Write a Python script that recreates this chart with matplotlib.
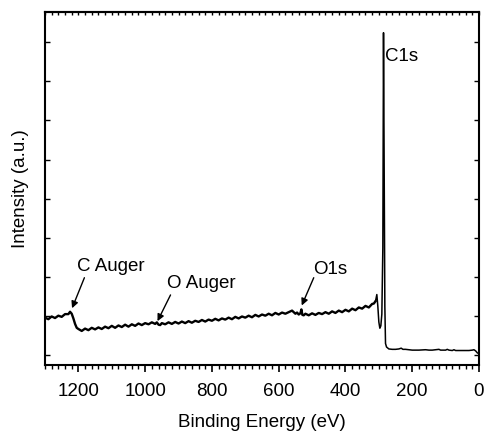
import matplotlib
matplotlib.use("Agg")
import matplotlib.pyplot as plt
from matplotlib.ticker import MultipleLocator, NullFormatter

plt.rcParams['font.family'] = ['Liberation Sans', 'DejaVu Sans']

# XPS survey spectrum (binding energy in eV, intensity in arbitrary units)
energy = [1300, 1290, 1280, 1270, 1260, 1250, 1240, 1230, 1225, 1220,
          1215, 1210, 1205, 1200, 1190, 1180, 1170, 1160, 1150, 1140,
          1130, 1120, 1110, 1100, 1090, 1080, 1070, 1060, 1050, 1040,
          1030, 1020, 1010, 1000, 990, 980, 970, 965, 960, 955,
          950, 940, 930, 920, 910, 900, 890, 880, 870, 860,
          850, 840, 830, 820, 810, 800, 790, 780, 770, 760,
          750, 740, 730, 720, 710, 700, 690, 680, 670, 660,
          650, 640, 630, 620, 610, 600, 590, 580, 570, 560,
          555, 550, 545, 540, 535, 532, 529, 525, 520, 510,
          500, 490, 480, 470, 460, 450, 440, 430, 420, 410,
          400, 390, 380, 370, 360, 350, 340, 330, 320, 315,
          310, 306, 303, 300, 297, 294, 291, 288, 286, 284,
          282, 280, 277, 270, 260, 250, 240, 233, 228, 220,
          200, 180, 160, 150, 140, 130, 120, 115, 100, 95,
          90, 80, 75, 70, 60, 50, 40, 30, 20, 15,
          10, 5, 0]
intensity = [1.21, 1.17, 1.24, 1.20, 1.26, 1.23, 1.30, 1.30, 1.36, 1.31,
             1.19, 1.05, 0.95, 0.92, 0.87, 0.93, 0.89, 0.95, 0.91, 0.96,
             0.92, 0.98, 0.94, 1.00, 0.95, 1.01, 0.97, 1.03, 0.98, 1.04,
             1.00, 1.06, 1.02, 1.07, 1.04, 1.09, 1.05, 1.09, 1.03, 1.02,
             1.07, 1.04, 1.09, 1.05, 1.10, 1.06, 1.11, 1.07, 1.12, 1.08,
             1.13, 1.10, 1.15, 1.11, 1.16, 1.13, 1.18, 1.14, 1.19, 1.16,
             1.21, 1.17, 1.23, 1.19, 1.24, 1.21, 1.26, 1.22, 1.28, 1.24,
             1.29, 1.26, 1.31, 1.27, 1.33, 1.29, 1.34, 1.31, 1.35, 1.39,
             1.35, 1.31, 1.34, 1.29, 1.32, 1.42, 1.28, 1.27, 1.31, 1.27,
             1.32, 1.28, 1.33, 1.30, 1.35, 1.31, 1.37, 1.33, 1.39, 1.35,
             1.41, 1.37, 1.44, 1.40, 1.47, 1.44, 1.51, 1.47, 1.56, 1.57,
             1.63, 1.80, 1.50, 1.10, 0.94, 1.00, 1.30, 3.00, 8.49, 5.00,
             1.50, 0.55, 0.46, 0.41, 0.40, 0.40, 0.41, 0.43, 0.40, 0.40,
             0.38, 0.38, 0.39, 0.38, 0.38, 0.39, 0.40, 0.38, 0.38, 0.40,
             0.38, 0.37, 0.39, 0.37, 0.37, 0.37, 0.37, 0.37, 0.38, 0.39,
             0.36, 0.31, 0.29]

# peak labels: text, text position, arrow (start, tip)
labels = ["C1s", "C Auger", "O Auger", "O1s"]
label_pos = [(282, 7.88), (1203, 2.51), (936, 2.07), (498, 2.43)]
arrows = [None, ((1182, 2.23), (1219, 1.45)),
          ((924, 1.79), (963, 1.12)),
          ((495, 2.23), (531, 1.52))]

fig = plt.figure(figsize=(4.85, 4.34), dpi=100)
ax = fig.add_axes([0.0928, 0.159, 0.8948, 0.8134])

# noisy high-energy part drawn a bit heavier, like the original scan
split = energy.index(310)
ax.plot(energy[:split + 1], intensity[:split + 1], color='black', lw=1.7)
ax.plot(energy[split:], intensity[split:], color='black', lw=1.1)

for txt, pos, arr in zip(labels, label_pos, arrows):
    ax.text(pos[0], pos[1], txt, fontsize=13.5, ha='left', va='center')
    if arr is not None:
        ax.annotate('', xy=arr[1], xytext=arr[0],
                    arrowprops=dict(arrowstyle='-|>', color='black', lw=1.0,
                                    mutation_scale=10, shrinkA=0, shrinkB=0))

ax.set_xlim(1300, 0)
ax.set_ylim(0, 9.02)
ax.xaxis.set_major_locator(MultipleLocator(200))
ax.xaxis.set_minor_locator(MultipleLocator(20))
ax.set_yticks([0.25 + k for k in range(9)])
ax.yaxis.set_major_formatter(NullFormatter())

ax.tick_params(axis='x', which='major', direction='out', length=5, width=1.2,
               labelsize=13.5, pad=8)
ax.tick_params(axis='x', which='minor', direction='out', length=3, width=1.0)
ax.tick_params(axis='y', which='major', direction='in', length=3.5, width=1.0,
               right=True)

# top axis: small inward ticks, no labels
top = ax.secondary_xaxis('top')
top.xaxis.set_major_locator(MultipleLocator(200))
top.xaxis.set_minor_locator(MultipleLocator(20))
top.tick_params(axis='x', which='both', direction='in', length=2, width=1.0,
                labeltop=False)
top.spines['top'].set_linewidth(1.5)

for sp in ax.spines.values():
    sp.set_linewidth(1.5)

ax.set_xlabel("Binding Energy (eV)", fontsize=13.5, labelpad=10)
ax.set_ylabel("Intensity (a.u.)", fontsize=13.5, labelpad=8)

fig.savefig("out.png", dpi=100)
